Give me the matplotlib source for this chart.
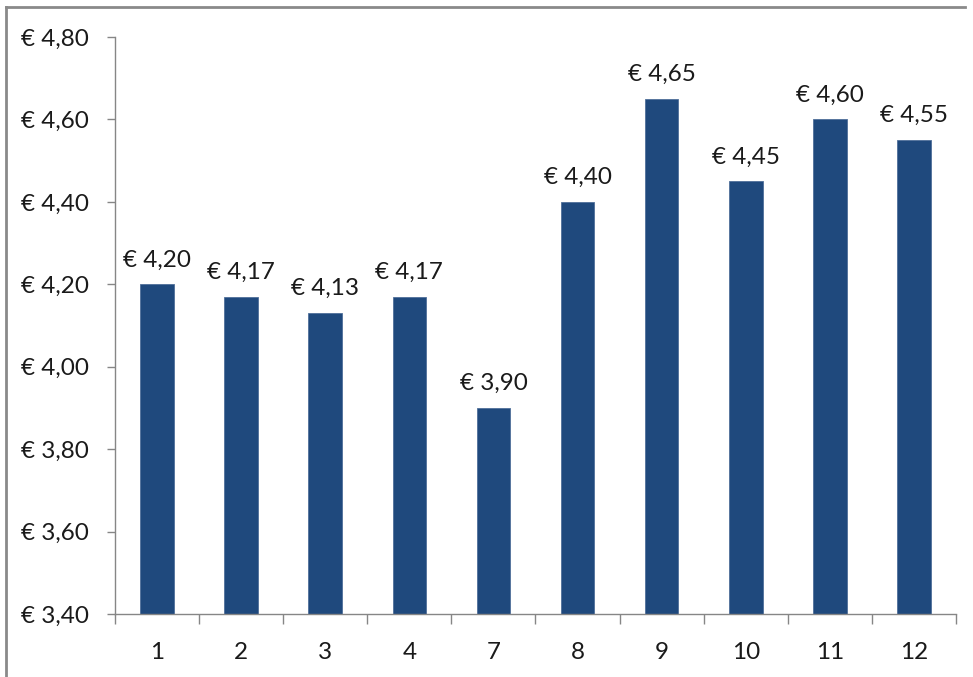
import matplotlib.pyplot as plt
from matplotlib.lines import Line2D

# data
months = ["1", "2", "3", "4", "7", "8", "9", "10", "11", "12"]
prices = [4.20, 4.17, 4.13, 4.17, 3.90, 4.40, 4.65, 4.45, 4.60, 4.55]
y_ticks = [3.40, 3.60, 3.80, 4.00, 4.20, 4.40, 4.60, 4.80]

bar_color = "#1F497D"
axis_color = "#868686"
text_color = "#1a1a1a"
fs = 17.5
plt.rcParams["font.family"] = ["Lato", "DejaVu Sans"]


def euro(v):
    return "€ " + f"{v:.2f}".replace(".", ",")


fig = plt.figure(figsize=(9.73, 6.77), dpi=100)
ax = fig.add_axes([0.1182, 0.0931, 0.8643, 0.8522])

x = list(range(len(months)))
ax.bar(x, prices, width=0.4, color=bar_color, edgecolor="#4F6F9A", linewidth=0.6)

for xi, v in zip(x, prices):
    ax.annotate(euro(v), (xi, v), xytext=(0, 10), textcoords="offset points",
                ha="center", va="bottom", fontsize=fs, color=text_color)

ax.set_xlim(-0.5, len(months) - 0.5)
ax.set_ylim(3.40, 4.80)
ax.set_yticks(y_ticks)
ax.set_yticklabels([euro(v) for v in y_ticks], fontsize=fs, color=text_color)
ax.set_xticks(x)
ax.set_xticklabels(months, fontsize=fs, color=text_color)
ax.tick_params(axis="x", length=0, pad=20)
ax.tick_params(axis="y", length=6, width=1, color=axis_color, pad=12.5)

# category separators on the x axis
ax.set_xticks([i - 0.5 for i in range(len(months) + 1)], minor=True)
ax.tick_params(axis="x", which="minor", length=7, width=1, color=axis_color)

for side in ["top", "right"]:
    ax.spines[side].set_visible(False)
for side in ["left", "bottom"]:
    ax.spines[side].set_color(axis_color)
    ax.spines[side].set_linewidth(1)

# chart area border (cropped at right and bottom)
fig.add_artist(Line2D([5.5 / 973, 5.5 / 973], [0, 1 - 7 / 677],
                      transform=fig.transFigure, color="#8a8a8a", lw=2))
fig.add_artist(Line2D([5.5 / 973, 965 / 973], [1 - 7 / 677, 1 - 7 / 677],
                      transform=fig.transFigure, color="#8a8a8a", lw=2))

fig.savefig("out.png", dpi=100)
